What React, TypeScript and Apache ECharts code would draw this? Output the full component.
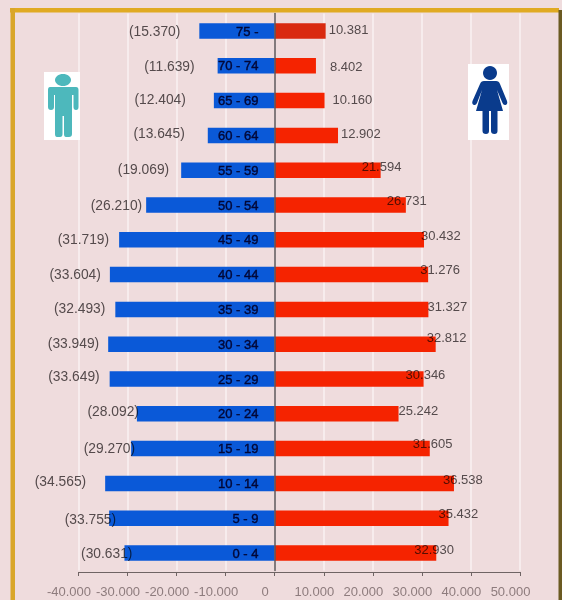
import React, { useEffect, useRef } from "react";
import * as echarts from "echarts";

const categories = ["75 -", "70 - 74", "65 - 69", "60 - 64", "55 - 59", "50 - 54", "45 - 49", "40 - 44", "35 - 39", "30 - 34", "25 - 29", "20 - 24", "15 - 19", "10 - 14", "5 - 9", "0 - 4"];
const male = [15370, 11639, 12404, 13645, 19069, 26210, 31719, 33604, 32493, 33949, 33649, 28092, 29270, 34565, 33755, 30631];
const female = [10381, 8402, 10160, 12902, 21594, 26731, 30432, 31276, 31327, 32812, 30346, 25242, 31605, 36538, 35432, 32930];
const xTicks = { min: -40000, max: 50000, interval: 10000 };

// Where each value label sits relative to its bar end (the source places them by hand).
const maleLabelShift: [number, number][] = [[-19, 0], [-23, 1], [-28, -1], [-23, -2], [-12, -1], [-4, 0], [-10, 0], [-9, 0], [-10, -1], [-9, -1], [-10, -3], [2, -2], [4, 0], [-19, -2], [7, 1], [8, 0]];
const femaleLabelShift: [number, number][] = [[3, -2], [14, 1], [8, -1], [3, -2], [-19, -4], [-19, -5], [-3, -4], [-8, -5], [-1, -3], [-9, -7], [-18, -5], [0, -3], [-17, -5], [-11, -4], [-10, -5], [-22, -4]];

const dotted = (v: number) => String(Math.abs(v)).replace(/\B(?=(\d{3})+$)/g, ".");

const MAN = "M50 87H76Q78.5 87 78.5 90V107Q78.5 110 76 110Q73.5 110 73.5 107V95H72V134Q72 137 69 137H66Q64 137 64 134V116H62.5V134Q62.5 137 60 137H57Q55 137 55 134V95H54V107Q54 110 51 110Q48 110 48 107V90Q48 87 50 87Z";
const WOMAN = "M484 81H496Q499 81 500 84L507 101Q508 104 505.5 105Q503.5 105.5 502.5 103L497 90L503 111H497.5V131Q497.5 134 494.5 134Q491 134 491 131V111H489V131Q489 134 486 134Q482.5 134 482.5 131V111H476L482 90L477 103Q476 105.5 474 105Q471.5 104 472.5 101L480 84Q481 81 484 81Z";

echarts.graphic.registerShape("manIcon", echarts.graphic.extendPath(MAN, {}));
echarts.graphic.registerShape("womanIcon", echarts.graphic.extendPath(WOMAN, {}));

const FONT = "'Liberation Sans', Arial, sans-serif";

export default function App() {
  const ref = useRef<HTMLDivElement>(null);
  useEffect(() => {
    const chart = echarts.init(ref.current!, null, { renderer: "svg", width: 562, height: 600 });
    chart.setOption({
      animation: false,
      backgroundColor: "#EFDCDD",
      grid: { left: 78.5, right: 42, top: 13.6, bottom: 29.6 },
      xAxis: {
        type: "value",
        position: "bottom",
        offset: 1.6,
        ...xTicks,
        axisLine: { show: true, onZero: false, lineStyle: { color: "#6f6464", width: 1 } },
        axisTick: { show: true, length: 4, lineStyle: { color: "#6f6464" } },
        splitLine: { show: true, lineStyle: { color: "#F7ECED", width: 2 } },
        axisLabel: {
          color: "#989091",
          fontFamily: FONT,
          fontSize: 13,
          margin: 13,
          padding: [0, 19, 0, 0],
          hideOverlap: false,
          formatter: (v: number) => (v < 0 ? "-" : "") + dotted(v),
        },
      },
      yAxis: {
        type: "category",
        inverse: true,
        data: categories,
        z: 5,
        axisLine: { show: true, onZero: true, lineStyle: { color: "#5b5557", width: 1.5 } },
        axisTick: { show: false },
        splitLine: { show: false },
        axisLabel: {
          color: "#03103f",
          fontFamily: FONT,
          fontSize: 13,
          textBorderColor: "#03103f",
          textBorderWidth: 0.4,
          margin: -180,
          interval: 0,
        },
      },
      series: [
        {
          type: "bar",
          name: "Male",
          stack: "pyramid",
          barWidth: 15.5,
          itemStyle: { color: "#0A59D8" },
          data: male.map((v, i) => ({
            value: -v,
            label: { offset: maleLabelShift[i] },
          })),
          label: {
            show: true,
            position: "left",
            distance: 0,
            color: "#5a5657",
            fontFamily: FONT,
            fontSize: 13.8,
            formatter: (p: any) => `(${dotted(p.value)})`,
          },
        },
        {
          type: "bar",
          name: "Female",
          stack: "pyramid",
          barWidth: 15.5,
          itemStyle: { color: "#F52300" },
          data: female.map((v, i) => ({
            value: v,
            label: { offset: femaleLabelShift[i] },
            ...(i === 0 ? { itemStyle: { color: "#D9290F" } } : {}),
          })),
          label: {
            show: true,
            position: "right",
            distance: 0,
            color: "#5a5657",
            fontFamily: FONT,
            fontSize: 13,
            formatter: (p: any) => dotted(p.value),
          },
        },
      ],
      graphic: {
        elements: [
          { type: "rect", z: 10, shape: { x: 10, y: 8, width: 549, height: 4.5 }, style: { fill: "#E0AA22" } },
          { type: "rect", z: 10, shape: { x: 10.5, y: 8, width: 4.5, height: 592 }, style: { fill: "#D9A62A" } },
          { type: "rect", z: 10, shape: { x: 558.5, y: 10, width: 3.5, height: 590 }, style: { fill: "#6B5A22" } },
          { type: "rect", z: 10, shape: { x: 44, y: 72, width: 36, height: 68 }, style: { fill: "#FFFFFF" } },
          { type: "ellipse", z: 11, shape: { cx: 63, cy: 80, rx: 8, ry: 6 }, style: { fill: "#4DB8BC" } },
          { type: "manIcon", z: 11, style: { fill: "#4DB8BC" } },
          { type: "rect", z: 10, shape: { x: 468, y: 64, width: 41, height: 76 }, style: { fill: "#FFFFFF" } },
          { type: "circle", z: 11, shape: { cx: 490, cy: 73, r: 7 }, style: { fill: "#0A3B8C" } },
          { type: "womanIcon", z: 11, style: { fill: "#0A3B8C" } },
        ],
      },
    });
    return () => chart.dispose();
  }, []);
  return (
    <>
      <style>{`html,body{margin:0;background:#EFDCDD} #chart text{mix-blend-mode:multiply}`}</style>
      <div
        id="chart"
        ref={ref}
        style={{ position: "absolute", left: 0, top: 0, width: 562, height: 600, overflow: "hidden", filter: "blur(0.7px)" }}
      />
    </>
  );
}
